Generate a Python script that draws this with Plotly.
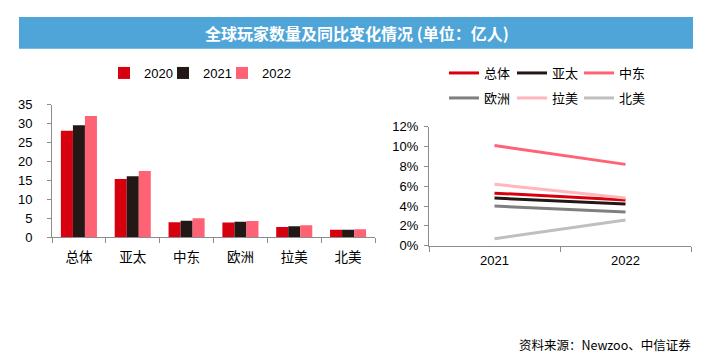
import plotly.graph_objects as go

# ---- data ----
regions = ["总体", "亚太", "中东", "欧洲", "拉美", "北美"]
years = ["2020", "2021", "2022"]
players_2020 = [28.1, 15.4, 4.0, 3.9, 2.7, 2.0]
players_2021 = [29.6, 16.1, 4.4, 4.1, 2.9, 2.0]
players_2022 = [32.0, 17.5, 5.0, 4.3, 3.2, 2.1]

growth_years = ["2021", "2022"]
growth_total = [0.053, 0.046]
growth_apac = [0.048, 0.042]
growth_mena = [0.101, 0.082]
growth_europe = [0.040, 0.034]
growth_latam = [0.062, 0.048]
growth_na = [0.007, 0.026]

bar_y_ticks = [0, 5, 10, 15, 20, 25, 30, 35]
line_y_ticks = [0, 0.02, 0.04, 0.06, 0.08, 0.10, 0.12]

title_text = "全球玩家数量及同比变化情况 (单位：亿人)"
source_text = "资料来源：Newzoo、中信证券"

# ---- styles ----
W, H = 706, 357
FONT = "Liberation Sans, Arial, Noto Sans CJK SC, sans-serif"
bar_colors = ["#D7000F", "#231815", "#FF6275"]
line_colors = ["#D7000F", "#231815", "#FF6275", "#7F7F7F", "#FFB6BC", "#BFBFBF"]
AXIS = "#8C8C8C"

def px(x):
    return x / W

def py(y):
    return (H - y) / H

fig = go.Figure()
layout_legends = {}

bar_series = [players_2020, players_2021, players_2022]
bar_leg_x = [104, 163, 222]
for i, (name, vals, col) in enumerate(zip(years, bar_series, bar_colors)):
    lid = "legend" if i == 0 else "legend%d" % (i + 1)
    fig.add_trace(go.Bar(x=regions, y=vals, name=name, marker_color=col,
                         marker_line_width=0, xaxis="x", yaxis="y", legend=lid))
    layout_legends[lid] = dict(orientation="h", x=px(bar_leg_x[i]), y=py(73),
                               xanchor="left", yanchor="middle",
                               bgcolor="rgba(0,0,0,0)", font=dict(size=13))

growth_series = [growth_total, growth_apac, growth_mena, growth_europe, growth_latam, growth_na]
line_leg_x = [444, 512, 579]
line_leg_y = [73, 98]
for i, (name, vals, col) in enumerate(zip(regions, growth_series, line_colors)):
    lid = "legend%d" % (i + 4)
    fig.add_trace(go.Scatter(x=growth_years, y=vals, name=name, mode="lines",
                             line=dict(color=col, width=3),
                             xaxis="x2", yaxis="y2", legend=lid))
    layout_legends[lid] = dict(orientation="h", x=px(line_leg_x[i % 3]),
                               y=py(line_leg_y[i // 3]),
                               xanchor="left", yanchor="middle",
                               bgcolor="rgba(0,0,0,0)", font=dict(size=13))

fig.update_layout(
    width=W, height=H,
    showlegend=True,
    margin=dict(l=0, r=0, t=0, b=0, autoexpand=False),
    paper_bgcolor="white", plot_bgcolor="white",
    font=dict(family=FONT, size=13, color="#000000"),
    barmode="group", bargap=0.33, bargroupgap=0,
    xaxis=dict(domain=[px(52), px(375)], anchor="y", type="category",
               showline=True, linecolor=AXIS, linewidth=1, automargin=False,
               ticks="outside", tickson="boundaries", ticklen=5, tickcolor=AXIS,
               ticklabelstandoff=7,
               showgrid=False, tickfont=dict(size=13.5), fixedrange=True),
    yaxis=dict(domain=[py(237.3), py(104.7)], anchor="x", range=[0, 35],
               tickvals=bar_y_ticks, showline=True, linecolor=AXIS, linewidth=1,
               ticks="outside", ticklen=4, tickcolor=AXIS, showgrid=False,
               automargin=False, ticklabelstandoff=12,
               zeroline=False, tickfont=dict(size=13), fixedrange=True),
    xaxis2=dict(domain=[px(429), px(691)], anchor="y2", type="category",
                range=[-0.5, 1.5], automargin=False,
                showline=True, linecolor=AXIS, linewidth=1,
                ticks="outside", tickson="boundaries", ticklen=5, tickcolor=AXIS,
                ticklabelstandoff=3,
                showgrid=False, tickfont=dict(size=13), fixedrange=True),
    yaxis2=dict(domain=[py(245.7), py(126.7)], anchor="x2", range=[0, 0.12],
                tickvals=line_y_ticks, tickformat=".0%", automargin=False,
                showline=True, linecolor=AXIS, linewidth=1,
                ticks="outside", ticklen=4, tickcolor=AXIS, showgrid=False,
                ticklabelstandoff=3,
                zeroline=False, tickfont=dict(size=13), fixedrange=True),
    shapes=[dict(type="rect", xref="paper", yref="paper",
                 x0=px(19), x1=px(693), y0=py(48.7), y1=py(17),
                 fillcolor="#4FA5D8", line_width=0, layer="below")],
    annotations=[
        dict(text="<b>" + title_text + "</b>", xref="paper", yref="paper",
             x=px(357), y=py(33), xanchor="center", yanchor="middle", showarrow=False,
             font=dict(family="Noto Sans CJK SC, sans-serif", size=16, color="white")),
        dict(text=source_text, xref="paper", yref="paper",
             x=px(693), y=py(344), xanchor="right", yanchor="middle", showarrow=False,
             font=dict(family="Noto Sans CJK SC, Liberation Sans, sans-serif", size=12.5, color="#000000")),
    ],
    **layout_legends,
)

fig.write_html("out.html", config={"displayModeBar": False},
               post_script="document.body.style.margin='0';document.body.style.overflow='hidden';")
